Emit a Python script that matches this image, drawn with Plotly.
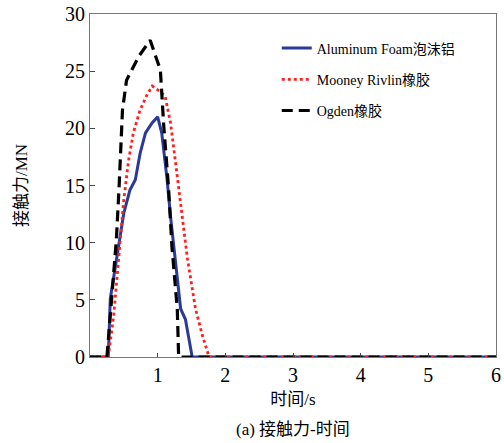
import plotly.graph_objects as go

# Data (time in s, contact force in MN)
t_al = [0, 0.27, 0.30, 0.42, 0.50, 0.59, 0.67, 0.74, 0.82, 0.92, 1.00, 1.06, 1.14, 1.19, 1.26, 1.34, 1.41, 1.51, 2.0, 3.0, 4.0, 5.0, 6.0]
f_al = [0, 0, 5.1, 9.7, 12.6, 14.6, 15.5, 17.8, 19.6, 20.5, 21.0, 19.6, 15.5, 12.3, 8.6, 4.2, 3.3, 0, 0, 0, 0, 0, 0]

t_mr = [0, 0.27, 0.35, 0.42, 0.50, 0.57, 0.64, 0.74, 0.84, 0.92, 1.04, 1.11, 1.19, 1.26, 1.34, 1.44, 1.56, 1.66, 1.76, 2.0, 3.0, 4.0, 5.0, 6.0]
f_mr = [0, 0, 3.6, 8.6, 13.8, 17.2, 19.6, 21.6, 22.9, 23.7, 23.2, 22.8, 20.5, 17.2, 13.2, 8.6, 4.2, 1.9, 0, 0, 0, 0, 0, 0]

t_og = [0, 0.25, 0.32, 0.39, 0.43, 0.48, 0.54, 0.64, 0.72, 0.89, 1.04, 1.09, 1.16, 1.21, 1.29, 1.31, 2.0, 3.0, 4.0, 5.0, 6.0]
f_og = [0, 0, 5.1, 10.3, 14.9, 21.6, 24.2, 25.4, 26.3, 27.7, 25.1, 20.2, 14.9, 9.7, 4.2, 0, 0, 0, 0, 0, 0]

names = ["Aluminum Foam泡沫铝", "Mooney Rivlin橡胶", "Ogden橡胶"]
x_ticks = [1, 2, 3, 4, 5, 6]
y_ticks = [0, 5, 10, 15, 20, 25, 30]

FONT = "Liberation Serif, DejaVu Serif, Noto Sans CJK SC, serif"

fig = go.Figure()
fig.add_trace(go.Scatter(x=t_al, y=f_al, mode="lines", name=names[0],
                         line=dict(color="#2a3a9a", width=3), legendgroup="a"))
fig.add_trace(go.Scatter(x=t_mr, y=f_mr, mode="lines", name=names[1],
                         line=dict(color="#ff2020", width=2.8, dash="dot"), legendgroup="b"))
fig.add_trace(go.Scatter(x=t_og, y=f_og, mode="lines", name=names[2],
                         line=dict(color="black", width=3.2, dash="11px,6px"), legendgroup="c"))

fig.update_layout(
    width=504, height=443,
    margin=dict(l=90, r=8, t=14, b=86, autoexpand=False),
    plot_bgcolor="white", paper_bgcolor="white",
    font=dict(family=FONT, size=17, color="black"),
    showlegend=True,
    legend=dict(x=0.46, y=0.946, xanchor="left", yanchor="top",
                bgcolor="rgba(0,0,0,0)", font=dict(size=14, family=FONT),
                tracegroupgap=10, itemwidth=30),
    xaxis=dict(range=[0, 6], tickvals=x_ticks, ticks="inside", ticklen=4,
               showline=True, linecolor="#777", linewidth=1.2, mirror=True,
               showgrid=False, zeroline=False, automargin=False,
               ticklabeloverflow="allow",
               tickfont=dict(size=20, family=FONT),
               title=dict(text="时间/s", font=dict(size=17, family=FONT), standoff=8)),
    yaxis=dict(range=[0, 30], tickvals=y_ticks, ticks="inside", ticklen=5,
               showline=True, linecolor="#777", linewidth=1.2, mirror=True,
               showgrid=False, zeroline=False, automargin=False,
               ticklabeloverflow="allow",
               tickfont=dict(size=20, family=FONT),
               title=dict(text="接触力/MN", font=dict(size=17, family=FONT), standoff=32)),
)
fig.add_annotation(text="(a) 接触力-时间", xref="paper", yref="paper",
                   x=0.5, y=-0.245, xanchor="center", yanchor="bottom",
                   showarrow=False, font=dict(size=17, family=FONT))
fig.write_html("out.html", config={"displayModeBar": False},
               post_script="document.body.style.margin='0';document.body.style.overflow='hidden';")
